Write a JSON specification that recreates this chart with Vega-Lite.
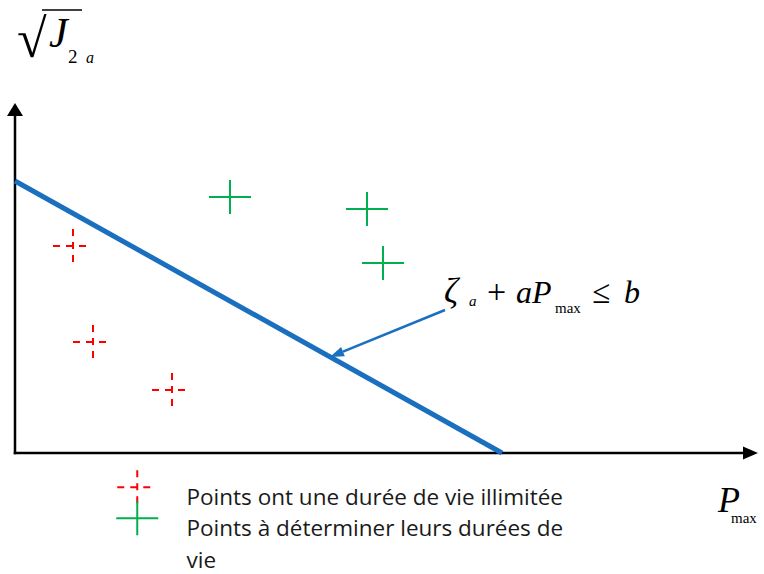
{
  "$schema": "https://vega.github.io/schema/vega-lite/v6.json",
  "width": 764,
  "height": 574,
  "autosize": "none",
  "padding": 0,
  "background": "white",
  "config": {"view": {"stroke": null}, "axis": {"disable": true}, "style": {"guide-label": {"lineHeight": 32}}},
  "layer": [
    {
      "data": {"values": [{}]},
      "mark": {"type": "rule", "color": "#000000", "strokeWidth": 2.5, "strokeCap": "square"},
      "encoding": {
        "x": {"datum": 0, "type": "quantitative", "scale": {"domain": [-1.5, 74.9], "nice": false, "zero": false}},
        "y": {"datum": 0, "type": "quantitative", "scale": {"domain": [-12.1, 45.3], "nice": false, "zero": false}},
        "y2": {"datum": 34}
      }
    },
    {
      "data": {"values": [{}]},
      "mark": {"type": "rule", "color": "#000000", "strokeWidth": 2.5, "strokeCap": "square"},
      "encoding": {
        "x": {"datum": 0, "type": "quantitative", "scale": {"domain": [-1.5, 74.9], "nice": false, "zero": false}},
        "x2": {"datum": 72.9},
        "y": {"datum": 0, "type": "quantitative", "scale": {"domain": [-12.1, 45.3], "nice": false, "zero": false}}
      }
    },
    {
      "data": {"values": [{}]},
      "mark": {"type": "point", "shape": "M0,-6.5L8,6.5L-8,6.5Z", "size": 4, "filled": true, "color": "#000000", "opacity": 1},
      "encoding": {
        "x": {"datum": 0, "type": "quantitative", "scale": {"domain": [-1.5, 74.9], "nice": false, "zero": false}},
        "y": {"datum": 34.35, "type": "quantitative", "scale": {"domain": [-12.1, 45.3], "nice": false, "zero": false}}
      }
    },
    {
      "data": {"values": [{}]},
      "mark": {"type": "point", "shape": "M7.5,0L-7.5,-6.5L-7.5,6.5Z", "size": 4, "filled": true, "color": "#000000", "opacity": 1},
      "encoding": {
        "x": {"datum": 73.55, "type": "quantitative", "scale": {"domain": [-1.5, 74.9], "nice": false, "zero": false}},
        "y": {"datum": 0, "type": "quantitative", "scale": {"domain": [-12.1, 45.3], "nice": false, "zero": false}}
      }
    },
    {
      "data": {"values": [{}]},
      "mark": {"type": "rule", "color": "#1a6fbf", "strokeWidth": 5},
      "encoding": {
        "x": {"datum": 0, "type": "quantitative", "scale": {"domain": [-1.5, 74.9], "nice": false, "zero": false}},
        "y": {"datum": 27.2, "type": "quantitative", "scale": {"domain": [-12.1, 45.3], "nice": false, "zero": false}},
        "x2": {"datum": 48.7},
        "y2": {"datum": 0}
      }
    },
    {
      "data": {"values": [{}]},
      "mark": {"type": "rule", "color": "#1a6fbf", "strokeWidth": 2.5},
      "encoding": {
        "x": {"datum": 43.0, "type": "quantitative", "scale": {"domain": [-1.5, 74.9], "nice": false, "zero": false}},
        "y": {"datum": 14.3, "type": "quantitative", "scale": {"domain": [-12.1, 45.3], "nice": false, "zero": false}},
        "x2": {"datum": 32.8},
        "y2": {"datum": 10.13}
      }
    },
    {
      "data": {"values": [{}]},
      "mark": {"type": "point", "shape": "M0,0L-14,-5L-14,5Z", "size": 4, "angle": 157.8, "filled": true, "color": "#1a6fbf", "opacity": 1},
      "encoding": {
        "x": {"datum": 31.5, "type": "quantitative", "scale": {"domain": [-1.5, 74.9], "nice": false, "zero": false}},
        "y": {"datum": 9.6, "type": "quantitative", "scale": {"domain": [-12.1, 45.3], "nice": false, "zero": false}}
      }
    },
    {
      "data": {
        "values": [
          {"Pmax": 5.8, "J2a": 20.7, "statut": "Points ont une durée de vie illimitée"},
          {"Pmax": 7.8, "J2a": 11.1, "statut": "Points ont une durée de vie illimitée"},
          {"Pmax": 15.7, "J2a": 6.3, "statut": "Points ont une durée de vie illimitée"},
          {"Pmax": 21.5, "J2a": 25.6, "statut": "Points à déterminer leurs durées de vie"},
          {"Pmax": 35.2, "J2a": 24.4, "statut": "Points à déterminer leurs durées de vie"},
          {"Pmax": 36.8, "J2a": 19.0, "statut": "Points à déterminer leurs durées de vie"}
        ]
      },
      "mark": {"type": "point", "filled": false, "size": 4, "strokeWidth": 2, "opacity": 1},
      "encoding": {
        "x": {"field": "Pmax", "type": "quantitative", "scale": {"domain": [-1.5, 74.9], "nice": false, "zero": false}},
        "y": {"field": "J2a", "type": "quantitative", "scale": {"domain": [-12.1, 45.3], "nice": false, "zero": false}},
        "color": {
          "field": "statut",
          "type": "nominal",
          "scale": {"domain": ["Points ont une durée de vie illimitée", "Points à déterminer leurs durées de vie"], "range": ["#ff0000", "#00b050"]},
          "legend": {
            "title": null,
            "orient": "none",
            "legendX": 126,
            "legendY": 476,
            "padding": 0,
            "symbolSize": 4,
            "symbolStrokeWidth": 2,
            "labelFont": "Open Sans",
            "labelFontSize": 22.5,
            "labelColor": "#1a1a1a",
            "labelOffset": 38,
            "labelLimit": 600,
            "rowPadding": -13,
            "gridAlign": "none",
            "labelBaseline": "top",
            "labelExpr": "datum.label == 'Points à déterminer leurs durées de vie' ? ['Points à déterminer leurs durées de', 'vie'] : datum.label"
          }
        },
        "shape": {
          "field": "statut",
          "type": "nominal",
          "scale": {"domain": ["Points ont une durée de vie illimitée", "Points à déterminer leurs durées de vie"], "range": ["M-20,0L13,0M0,-17L0,16", "M-21,0L21,0M0,-17L0,17"]},
          "legend": {
            "title": null,
            "orient": "none",
            "legendX": 126,
            "legendY": 476,
            "padding": 0,
            "symbolSize": 4,
            "symbolStrokeWidth": 2,
            "labelFont": "Open Sans",
            "labelFontSize": 22.5,
            "labelColor": "#1a1a1a",
            "labelOffset": 38,
            "labelLimit": 600,
            "rowPadding": -13,
            "gridAlign": "none",
            "labelBaseline": "top",
            "labelExpr": "datum.label == 'Points à déterminer leurs durées de vie' ? ['Points à déterminer leurs durées de', 'vie'] : datum.label"
          }
        },
        "strokeDash": {
          "field": "statut",
          "type": "nominal",
          "scale": {"domain": ["Points ont une durée de vie illimitée", "Points à déterminer leurs durées de vie"], "range": [[7, 6], [1, 0]]},
          "legend": {
            "title": null,
            "orient": "none",
            "legendX": 126,
            "legendY": 476,
            "padding": 0,
            "symbolSize": 4,
            "symbolStrokeWidth": 2,
            "labelFont": "Open Sans",
            "labelFontSize": 22.5,
            "labelColor": "#1a1a1a",
            "labelOffset": 38,
            "labelLimit": 600,
            "rowPadding": -13,
            "gridAlign": "none",
            "labelBaseline": "top",
            "labelExpr": "datum.label == 'Points à déterminer leurs durées de vie' ? ['Points à déterminer leurs durées de', 'vie'] : datum.label"
          }
        }
      }
    },
    {
      "data": {"values": [{}]},
      "mark": {"type": "text", "text": "√", "font": "Liberation Serif", "fontSize": 54, "align": "left", "baseline": "alphabetic", "color": "#000000"},
      "encoding": {
        "x": {"datum": 0.2, "type": "quantitative", "scale": {"domain": [-1.5, 74.9], "nice": false, "zero": false}},
        "y": {"datum": 39.6, "type": "quantitative", "scale": {"domain": [-12.1, 45.3], "nice": false, "zero": false}}
      }
    },
    {
      "data": {"values": [{}]},
      "mark": {"type": "rule", "color": "#000000", "strokeWidth": 1.5},
      "encoding": {
        "x": {"datum": 2.7, "type": "quantitative", "scale": {"domain": [-1.5, 74.9], "nice": false, "zero": false}},
        "x2": {"datum": 6.7},
        "y": {"datum": 44.3, "type": "quantitative", "scale": {"domain": [-12.1, 45.3], "nice": false, "zero": false}}
      }
    },
    {
      "data": {"values": [{}]},
      "mark": {"type": "text", "text": "J", "font": "Liberation Serif", "fontStyle": "italic", "fontSize": 42, "align": "left", "baseline": "alphabetic", "color": "#000000"},
      "encoding": {
        "x": {"datum": 3.4, "type": "quantitative", "scale": {"domain": [-1.5, 74.9], "nice": false, "zero": false}},
        "y": {"datum": 40.6, "type": "quantitative", "scale": {"domain": [-12.1, 45.3], "nice": false, "zero": false}}
      }
    },
    {
      "data": {"values": [{}]},
      "mark": {"type": "text", "text": "2", "font": "Liberation Serif", "fontSize": 19, "align": "left", "baseline": "alphabetic", "color": "#000000"},
      "encoding": {
        "x": {"datum": 5.3, "type": "quantitative", "scale": {"domain": [-1.5, 74.9], "nice": false, "zero": false}},
        "y": {"datum": 39.0, "type": "quantitative", "scale": {"domain": [-12.1, 45.3], "nice": false, "zero": false}}
      }
    },
    {
      "data": {"values": [{}]},
      "mark": {"type": "text", "text": "a", "font": "Liberation Serif", "fontStyle": "italic", "fontSize": 16, "align": "left", "baseline": "alphabetic", "color": "#000000"},
      "encoding": {
        "x": {"datum": 7.1, "type": "quantitative", "scale": {"domain": [-1.5, 74.9], "nice": false, "zero": false}},
        "y": {"datum": 39.0, "type": "quantitative", "scale": {"domain": [-12.1, 45.3], "nice": false, "zero": false}}
      }
    },
    {
      "data": {"values": [{}]},
      "mark": {"type": "text", "text": "ζ", "font": "Liberation Serif", "fontStyle": "italic", "fontSize": 35, "align": "left", "baseline": "alphabetic", "color": "#000000"},
      "encoding": {
        "x": {"datum": 42.9, "type": "quantitative", "scale": {"domain": [-1.5, 74.9], "nice": false, "zero": false}},
        "y": {"datum": 15.0, "type": "quantitative", "scale": {"domain": [-12.1, 45.3], "nice": false, "zero": false}}
      }
    },
    {
      "data": {"values": [{}]},
      "mark": {"type": "text", "text": "a", "font": "Liberation Serif", "fontStyle": "italic", "fontSize": 15, "align": "left", "baseline": "alphabetic", "color": "#000000"},
      "encoding": {
        "x": {"datum": 45.4, "type": "quantitative", "scale": {"domain": [-1.5, 74.9], "nice": false, "zero": false}},
        "y": {"datum": 14.7, "type": "quantitative", "scale": {"domain": [-12.1, 45.3], "nice": false, "zero": false}}
      }
    },
    {
      "data": {"values": [{}]},
      "mark": {"type": "text", "text": "+", "font": "Liberation Serif", "fontSize": 34, "align": "left", "baseline": "alphabetic", "color": "#000000"},
      "encoding": {
        "x": {"datum": 47.2, "type": "quantitative", "scale": {"domain": [-1.5, 74.9], "nice": false, "zero": false}},
        "y": {"datum": 15.0, "type": "quantitative", "scale": {"domain": [-12.1, 45.3], "nice": false, "zero": false}}
      }
    },
    {
      "data": {"values": [{}]},
      "mark": {"type": "text", "text": "aP", "font": "Liberation Serif", "fontStyle": "italic", "fontSize": 32, "align": "left", "baseline": "alphabetic", "color": "#000000"},
      "encoding": {
        "x": {"datum": 50.1, "type": "quantitative", "scale": {"domain": [-1.5, 74.9], "nice": false, "zero": false}},
        "y": {"datum": 15.0, "type": "quantitative", "scale": {"domain": [-12.1, 45.3], "nice": false, "zero": false}}
      }
    },
    {
      "data": {"values": [{}]},
      "mark": {"type": "text", "text": "max", "font": "Liberation Serif", "fontSize": 15, "align": "left", "baseline": "alphabetic", "color": "#000000"},
      "encoding": {
        "x": {"datum": 54.0, "type": "quantitative", "scale": {"domain": [-1.5, 74.9], "nice": false, "zero": false}},
        "y": {"datum": 14.0, "type": "quantitative", "scale": {"domain": [-12.1, 45.3], "nice": false, "zero": false}}
      }
    },
    {
      "data": {"values": [{}]},
      "mark": {"type": "text", "text": "≤", "font": "Liberation Serif", "fontSize": 33, "align": "left", "baseline": "alphabetic", "color": "#000000"},
      "encoding": {
        "x": {"datum": 57.7, "type": "quantitative", "scale": {"domain": [-1.5, 74.9], "nice": false, "zero": false}},
        "y": {"datum": 15.0, "type": "quantitative", "scale": {"domain": [-12.1, 45.3], "nice": false, "zero": false}}
      }
    },
    {
      "data": {"values": [{}]},
      "mark": {"type": "text", "text": "b", "font": "Liberation Serif", "fontStyle": "italic", "fontSize": 32, "align": "left", "baseline": "alphabetic", "color": "#000000"},
      "encoding": {
        "x": {"datum": 60.9, "type": "quantitative", "scale": {"domain": [-1.5, 74.9], "nice": false, "zero": false}},
        "y": {"datum": 15.0, "type": "quantitative", "scale": {"domain": [-12.1, 45.3], "nice": false, "zero": false}}
      }
    },
    {
      "data": {"values": [{}]},
      "mark": {"type": "text", "text": "P", "font": "Liberation Serif", "fontStyle": "italic", "fontSize": 36, "align": "left", "baseline": "alphabetic", "color": "#000000"},
      "encoding": {
        "x": {"datum": 70.3, "type": "quantitative", "scale": {"domain": [-1.5, 74.9], "nice": false, "zero": false}},
        "y": {"datum": -5.9, "type": "quantitative", "scale": {"domain": [-12.1, 45.3], "nice": false, "zero": false}}
      }
    },
    {
      "data": {"values": [{}]},
      "mark": {"type": "text", "text": "max", "font": "Liberation Serif", "fontSize": 15, "align": "left", "baseline": "alphabetic", "color": "#000000"},
      "encoding": {
        "x": {"datum": 71.6, "type": "quantitative", "scale": {"domain": [-1.5, 74.9], "nice": false, "zero": false}},
        "y": {"datum": -7.0, "type": "quantitative", "scale": {"domain": [-12.1, 45.3], "nice": false, "zero": false}}
      }
    }
  ]
}
